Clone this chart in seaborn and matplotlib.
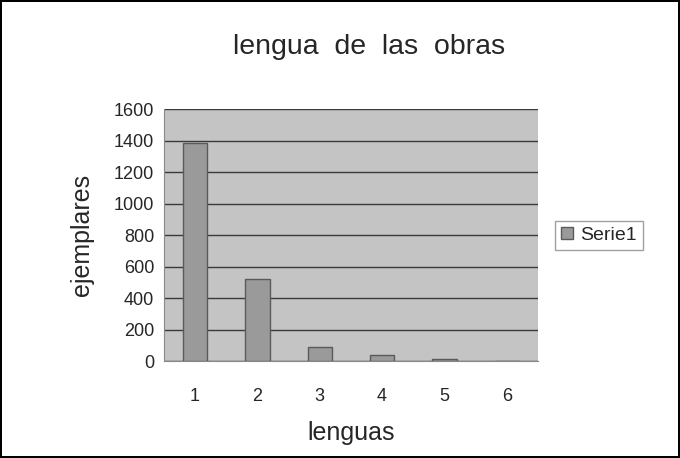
import matplotlib
matplotlib.use('Agg')
import matplotlib.pyplot as plt
import seaborn as sns
import pandas as pd
from matplotlib.ticker import FixedLocator

# Données
lenguas = ['1', '2', '3', '4', '5', '6']
ejemplares = [1385, 521, 92, 40, 12, 3]
y_ticks = [0, 200, 400, 600, 800, 1000, 1200, 1400, 1600]

df = pd.DataFrame({'lenguas': lenguas, 'ejemplares': ejemplares})

sns.set_style('white')
plt.rcParams['font.family'] = ['Liberation Sans', 'DejaVu Sans']

fig = plt.figure(figsize=(6.8, 4.58), dpi=100)
fig.patch.set_edgecolor('black')
fig.patch.set_linewidth(1.5)
ax = fig.add_axes([0.241, 0.211, 0.55, 0.551])
ax.set_facecolor('#c4c4c4')

sns.barplot(data=df, x='lenguas', y='ejemplares', color='#9a9a9a',
            width=0.39, edgecolor='#5a5a5a', linewidth=1, saturation=1,
            label='Serie1', ax=ax, zorder=3)

# Grille horizontale
ax.set_ylim(0, 1600)
ax.set_yticks(y_ticks)
ax.yaxis.grid(True, color='#3a3a3a', linewidth=1)
ax.set_axisbelow(True)
ax.set_xlim(-0.5, 5.5)

# Graduations x entre les catégories
ax.tick_params(axis='x', which='major', length=0, pad=19, labelsize=13)
ax.xaxis.set_minor_locator(FixedLocator([i + 0.5 for i in range(-1, 6)]))
ax.tick_params(axis='x', which='minor', length=5, color='#555555', direction='out')
ax.tick_params(axis='y', length=5, color='#555555', direction='out', labelsize=13, pad=2)

for side in ['top', 'right']:
    ax.spines[side].set_visible(False)
for side in ['left', 'bottom']:
    ax.spines[side].set_color('#888888')

fig.text(0.543, 0.897, 'lengua  de  las  obras', ha='center', va='center', fontsize=20.5)
ax.set_xlabel('lenguas', fontsize=18, labelpad=12)
ax.set_ylabel('ejemplares', fontsize=18, labelpad=14)

ax.legend(loc='center left', bbox_to_anchor=(1.02, 0.5), frameon=True,
          fancybox=False, edgecolor='#888888', fontsize=14,
          handlelength=0.6, handleheight=0.6, handletextpad=0.4, borderpad=0.3)

fig.savefig('out.png', dpi=100)
